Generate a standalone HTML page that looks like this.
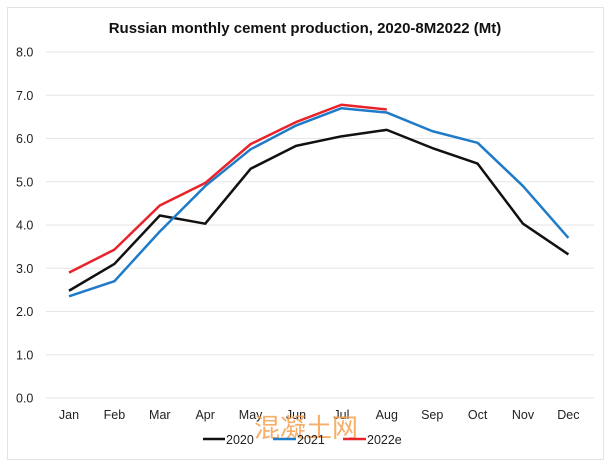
<!DOCTYPE html>
<html><head><meta charset="utf-8"><style>
body{margin:0;background:#fff;width:610px;height:466px;overflow:hidden}
</style></head><body>
<svg width="610" height="466" xmlns="http://www.w3.org/2000/svg" font-family="Liberation Sans, Arial, sans-serif">
<rect x="7.5" y="7.5" width="596" height="452" fill="#fff" stroke="#e3e3e3" stroke-width="1"/>
<text x="305" y="33" text-anchor="middle" font-size="15" font-weight="bold" fill="#111">Russian monthly cement production, 2020-8M2022 (Mt)</text>
<g id="grid" stroke="#e6e6e6" stroke-width="1"></g>
<g id="ylab" font-size="12.5" fill="#222"></g>
<g id="xlab" font-size="12.5" fill="#222" text-anchor="middle"></g>
<g id="lines" fill="none" stroke-width="2.5" stroke-linejoin="round"></g>
<text x="306" y="437" text-anchor="middle" font-size="26" fill="#f5a050" opacity="0.85" font-family="Liberation Sans, Noto Sans CJK SC, sans-serif">混凝土网</text>
<g font-size="12.5" fill="#222">
<line x1="203" y1="439" x2="225" y2="439" stroke="#111" stroke-width="2.5"/><text x="226" y="444">2020</text>
<line x1="273" y1="439" x2="296" y2="439" stroke="#1f7bc8" stroke-width="2.5"/><text x="297" y="444">2021</text>
<line x1="343" y1="439" x2="366" y2="439" stroke="#e8232a" stroke-width="2.5"/><text x="367" y="444">2022e</text>
</g>
</svg>
<script>
var ns="http://www.w3.org/2000/svg";
function el(p,t,a,txt){var e=document.createElementNS(ns,t);for(var k in a)e.setAttribute(k,a[k]);if(txt)e.textContent=txt;document.getElementById(p).appendChild(e);}
function Y(v){return 398-v*43.25}
function X(i){return 69+i*45.4}
for(var v=0;v<=8;v++){el("grid","line",{x1:46,x2:594,y1:Y(v),y2:Y(v)});el("ylab","text",{x:16,y:Y(v)+4.5},v.toFixed(1));}
var m=["Jan","Feb","Mar","Apr","May","Jun","Jul","Aug","Sep","Oct","Nov","Dec"];
m.forEach(function(s,i){el("xlab","text",{x:X(i),y:419},s)});
var d=[["#111",[2.48,3.1,4.22,4.03,5.3,5.83,6.05,6.2,5.78,5.42,4.03,3.32]],
["#1f7bc8",[2.35,2.7,3.85,4.9,5.75,6.3,6.7,6.6,6.17,5.9,4.9,3.7]],
["#e8232a",[2.9,3.43,4.45,4.97,5.87,6.38,6.78,6.67]]];
d.forEach(function(s){el("lines","polyline",{stroke:s[0],points:s[1].map(function(v,i){return X(i)+","+Y(v)}).join(" ")})});
</script>
</body></html>
